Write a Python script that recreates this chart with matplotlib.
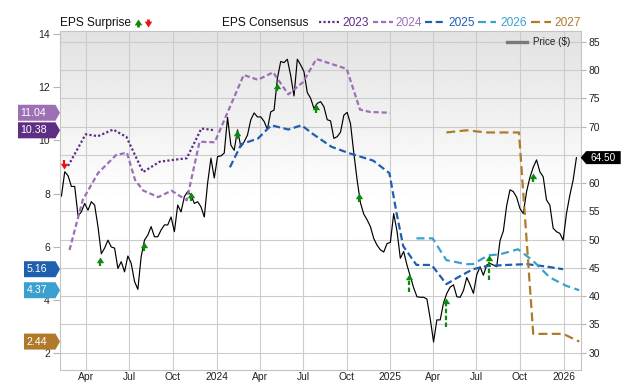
import numpy as np
import pandas as pd
import matplotlib
matplotlib.use("Agg")
import matplotlib.pyplot as plt
import matplotlib.dates as mdates
from matplotlib.transforms import blended_transform_factory, ScaledTranslation, Affine2D
from matplotlib.patches import Polygon
from matplotlib.lines import Line2D
from matplotlib.text import Text
from matplotlib.ticker import FuncFormatter

plt.rcParams['font.family'] = ['Liberation Sans', 'DejaVu Sans']

# ---------------- data ----------------
price_start = '2023-02-08'
price_values = [
    57.7, 62.0, 61.3, 59.4, 59.4, 54.2, 54.9, 56.4, 55.2, 56.7,
    56.1, 52.3, 47.5, 48.5, 49.9, 48.7, 48.5, 44.9, 46.1, 44.3,
    47.1, 45.8, 42.6, 41.2, 47.0, 49.9, 50.8, 52.3, 50.5, 50.5,
    51.7, 52.6, 52.6, 54.0, 51.4, 56.1, 54.9, 57.6, 58.5, 57.9,
    56.4, 56.7, 55.8, 54.0, 60.0, 64.4, 60.9, 64.7, 64.8, 65.3,
    71.6, 66.7, 65.8, 69.4, 66.4, 67.3, 68.5, 71.2, 72.4, 71.7,
    71.7, 70.9, 69.5, 72.6, 72.9, 78.5, 81.5, 81.3, 81.9, 79.0,
    75.4, 81.9, 80.9, 79.7, 76.0, 75.0, 73.2, 74.1, 74.4, 73.5,
    71.2, 71.0, 67.9, 68.2, 69.0, 72.0, 72.5, 70.5, 65.3, 60.5,
    56.5, 54.5, 53.5, 52.3, 50.2, 49.0, 48.2, 47.8, 49.3, 49.5,
    54.6, 51.5, 46.7, 47.9, 45.5, 43.5, 41.5, 39.9, 39.8, 39.8,
    39.5, 36.0, 31.9, 35.8, 35.8, 38.8, 40.5, 41.6, 42.0, 39.9,
    39.8, 41.0, 43.3, 42.0, 40.5, 43.8, 45.2, 43.7, 45.5, 45.8,
    45.5, 45.2, 49.8, 51.5, 56.0, 58.8, 58.5, 57.5, 55.5, 54.6,
    58.5, 61.0, 62.8, 64.1, 62.0, 61.1, 57.0, 56.1, 52.0, 51.4,
    51.1, 49.9, 54.6, 57.8, 60.5, 64.5]
price_last_label = '64.50'

eps2023_dates = ['2023-02-22', '2023-03-31', '2023-04-26', '2023-05-28', '2023-06-25', '2023-07-13',
                 '2023-07-30', '2023-09-03', '2023-09-28', '2023-10-30', '2023-11-30', '2023-12-28']
eps2023 = [9.04, 10.23, 10.16, 10.41, 10.13, 9.45, 8.81, 9.20, 9.26, 9.33, 10.45, 10.38]

eps2024_dates = ['2023-02-25', '2023-03-25', '2023-04-26', '2023-06-03', '2023-06-26', '2023-07-13',
                 '2023-07-30', '2023-08-31', '2023-09-28', '2023-10-30', '2023-11-26', '2023-12-28',
                 '2024-02-27', '2024-03-28', '2024-04-29', '2024-05-31', '2024-07-01', '2024-07-29',
                 '2024-10-01', '2024-10-29', '2024-11-19', '2024-12-31']
eps2024 = [5.88, 7.77, 8.77, 9.45, 9.54, 8.52, 8.12, 7.87, 8.11, 7.75, 9.95, 9.93,
           12.46, 12.28, 12.56, 11.73, 12.19, 13.06, 12.69, 11.16, 11.07, 11.04]

eps2025_dates = ['2024-01-29', '2024-02-22', '2024-03-28', '2024-04-25', '2024-05-31', '2024-06-28',
                 '2024-07-22', '2024-08-30', '2024-10-08', '2024-11-26', '2024-12-30', '2025-01-14',
                 '2025-01-28', '2025-02-25', '2025-03-29', '2025-04-29', '2025-05-27', '2025-06-24',
                 '2025-07-23', '2025-09-03', '2025-10-15', '2025-11-26', '2025-12-31']
eps2025 = [8.99, 9.86, 10.07, 10.57, 10.41, 10.57, 10.24, 9.76, 9.51, 9.24, 8.77, 7.28,
           6.03, 5.32, 5.32, 4.60, 4.89, 5.16, 5.28, 5.32, 5.35, 5.26, 5.16]

eps2026_dates = ['2025-02-25', '2025-03-31', '2025-04-29', '2025-06-10', '2025-06-24', '2025-07-26',
                 '2025-08-20', '2025-09-27', '2025-10-29', '2025-12-03', '2026-01-06', '2026-02-03']
eps2026 = [6.32, 6.32, 5.50, 5.35, 5.35, 5.68, 5.72, 5.91, 5.47, 4.85, 4.54, 4.37]

eps2027_dates = ['2025-04-29', '2025-06-10', '2025-07-23', '2025-09-29', '2025-10-29', '2025-12-31',
                 '2026-02-03']
eps2027 = [10.30, 10.38, 10.30, 10.30, 2.73, 2.73, 2.44]

series_names = ['2023', '2024', '2025', '2026', '2027']
series_labels = ['10.38', '11.04', '5.16', '4.37', '2.44']

surprise_dates = ['2023-02-13', '2023-04-30', '2023-07-31', '2023-11-09', '2024-02-12', '2024-05-07',
                  '2024-07-28', '2024-10-27', '2025-02-10', '2025-04-29', '2025-07-28', '2025-10-29']
surprise_tail = [64.0, 45.3, 48.0, 56.9, 67.8, 76.3, 72.4, 56.7, 40.7, 34.6, 42.9, 60.2]
surprise_tip = [62.4, 46.9, 49.6, 58.4, 69.4, 77.7, 74.0, 58.2, 44.0, 39.6, 47.3, 61.7]

x_tick_dates = pd.date_range('2023-04-01', '2026-01-01', freq='QS')
eps_ticks = [2, 4, 6, 8, 10, 12, 14]
price_ticks = [30, 35, 40, 45, 50, 55, 60, 65, 70, 75, 80, 85]

# ---------------- styles ----------------
colors = ['#5e2d84', '#9d70b6', '#1f5fae', '#3aa0d0', '#b07a2a']
dashes = [(0, (1, 1)), (0, (2.3, 1.3)), (0, (3.2, 1.6)), (0, (3.6, 2.0)), (0, (4.0, 2.0))]
green = '#0b8a0b'
red = '#ee1111'

W, H = 640, 382
fig = plt.figure(figsize=(W / 100, H / 100), dpi=100)
L, R, T, B = 60, 580.7, 30.7, 370
ax = fig.add_axes([L / W, 1 - B / H, (R - L) / W, (B - T) / H])
axp = ax.twinx()
axp.set_zorder(0)
ax.set_zorder(1)
ax.patch.set_visible(False)

xlo, xhi = pd.Timestamp('2023-02-05'), pd.Timestamp('2026-02-06')
ax.set_xlim(xlo, xhi)
ax.set_ylim(1.372, 14.124)
axp.set_ylim(26.94, 86.945)

# background gradient
f = np.linspace(0, 1, 256).reshape(-1, 1)
lev = np.where(f < 0.5, 1.0, 1 - 0.115 * (f - 0.5) / 0.5)
axp.imshow(lev, cmap='gray', vmin=0, vmax=1, extent=(0, 1, 0, 1), transform=axp.transAxes,
           aspect='auto', origin='lower', zorder=0, interpolation='bilinear')

# grid
axp.set_yticks(price_ticks)
axp.set_axisbelow(True)
axp.grid(axis='y', color='#cccccc', lw=0.8)
for d in x_tick_dates:
    axp.axvline(d, color='#cccccc', lw=0.8, zorder=0.6)

# price line
price_dates = pd.date_range(price_start, periods=len(price_values), freq='7D')
axp.plot(price_dates, price_values, color='black', lw=0.85, zorder=2)

# EPS consensus lines
eps_dates = [eps2023_dates, eps2024_dates, eps2025_dates, eps2026_dates, eps2027_dates]
eps_vals = [eps2023, eps2024, eps2025, eps2026, eps2027]
for dts, vals, c, ls in zip(eps_dates, eps_vals, colors, dashes):
    ax.plot(pd.to_datetime(dts), vals, color=c, lw=1.6, linestyle=ls, zorder=3)

# surprise arrows
up_head = [(0, 0), (-0.65, -1), (0.65, -1), (0, 0)]
down_head = [(0, 0), (-0.65, 1), (0.65, 1), (0, 0)]
head_len = 5.0 / 5.6545
for d, tl, tp in zip(pd.to_datetime(surprise_dates), surprise_tail, surprise_tip):
    up = tp > tl
    c = green if up else red
    stem_end = tp - head_len if up else tp + head_len
    ax.plot([d, d], [tl, stem_end], color=c, lw=1.6, linestyle=(0, (2, 1.1)),
            transform=axp.transData, zorder=5, solid_capstyle='butt', dash_capstyle='butt')
    ax.plot([d], [tp], marker=up_head if up else down_head, markersize=8.2, color=c,
            markeredgewidth=0, linestyle='none', transform=axp.transData, zorder=6)

# spines & ticks
for s in axp.spines.values():
    s.set_visible(False)
for s in ax.spines.values():
    s.set_color('#c4c4c4')
    s.set_linewidth(0.8)

ax.set_yticks(eps_ticks)
ax.tick_params(axis='y', length=4.8, width=0.8, color='#b5b5b5', pad=2.4, labelsize=7.5,
               labelcolor='#222222')
axp.tick_params(axis='y', length=3.6, width=0.8, color='#b5b5b5', pad=2.2, labelsize=7.5,
                labelcolor='#222222')
# the 65 label sits under the price tag in the reference
axp.yaxis.set_major_formatter(FuncFormatter(lambda v, p: '' if abs(v - 65) < 1e-6 else f'{v:g}'))
ax.set_xticks(x_tick_dates)
ax.xaxis.set_major_formatter(FuncFormatter(
    lambda v, p: (mdates.num2date(v).strftime('%Y') if mdates.num2date(v).month == 1
                  else mdates.num2date(v).strftime('%b'))))
ax.tick_params(axis='x', length=0, pad=1.3, labelsize=7.4, labelcolor='#222222')

# left value tags
blend_l = blended_transform_factory(ax.transAxes, ax.transData)
last_vals = [v[-1] for v in eps_vals]
for v, txt, c in zip(last_vals, series_labels, colors):
    w = 42 if len(txt) > 4 else 36
    trans = Affine2D() + ScaledTranslation(0, v, blend_l)
    fig.add_artist(Polygon([(-w, -8), (-4.5, -8), (0, 0), (-4.5, 8), (-w, 8)], closed=True,
                           transform=trans, facecolor=c, edgecolor='none', zorder=10,
                           clip_on=False))
    fig.add_artist(Text(-w + 2.6, 0, txt, transform=trans, ha='left', va='center',
                        color='white', fontsize=7.7, zorder=11))

# right price tag
blend_r = blended_transform_factory(axp.transAxes, axp.transData)
pv = price_values[-1]
trans = Affine2D() + ScaledTranslation(1, pv, blend_r)
fig.add_artist(Polygon([(0, 0), (5.5, -6.5), (40, -6.5), (40, 6.5), (5.5, 6.5)], closed=True,
                       transform=trans, facecolor='black', edgecolor='none', zorder=10,
                       clip_on=False))
fig.add_artist(Text(10, 0, price_last_label, transform=trans, ha='left', va='center',
                    color='white', fontsize=7.2, zorder=11))

# ---------------- legend (pixel coordinates) ----------------
pix = Affine2D()


def fy(ytop):
    return H - ytop


def ftxt(x, ytop, s, color='#111111', size=8.6, va='baseline'):
    fig.text(x / W, fy(ytop) / H, s, color=color, fontsize=size, ha='left', va=va)


ftxt(60, 26.3, 'EPS Surprise')
# legend arrows
fig.add_artist(Line2D([137.7, 137.7], [fy(27.0), fy(22.0)], color=green, lw=2.0, transform=pix,
                      solid_capstyle='butt'))
fig.add_artist(Line2D([137.7], [fy(18.8)], marker=up_head, markersize=8.5, color=green,
                      markeredgewidth=0, linestyle='none', transform=pix))
fig.add_artist(Line2D([147.7, 147.7], [fy(18.8), fy(23.8)], color=red, lw=2.0, transform=pix,
                      solid_capstyle='butt'))
fig.add_artist(Line2D([147.7], [fy(27.0)], marker=down_head, markersize=8.5, color=red,
                      markeredgewidth=0, linestyle='none', transform=pix))

ftxt(222, 26.3, 'EPS Consensus')
leg_lines = [(319, 338.5), (372.7, 393.1), (425, 445), (478.3, 496), (531, 551)]
leg_text_x = [342.5, 395.6, 448.3, 500.7, 554]
for (x0, x1), tx, name, c, ls in zip(leg_lines, leg_text_x, series_names, colors, dashes):
    fig.add_artist(Line2D([x0, x1], [fy(22.3), fy(22.3)], color=c, lw=1.6, linestyle=ls,
                          transform=pix))
    ftxt(tx, 26.3, name, color=c)

# price legend
fig.add_artist(Line2D([507, 527], [fy(41.7), fy(41.7)], color='#7a7a7a', lw=2.4, transform=pix,
                      zorder=10))
fig.text(533 / W, fy(41.7) / H, 'Price ($)', fontsize=7.1, color='#222222', ha='left',
         va='center', zorder=10)

fig.savefig('out.png', dpi=100)
